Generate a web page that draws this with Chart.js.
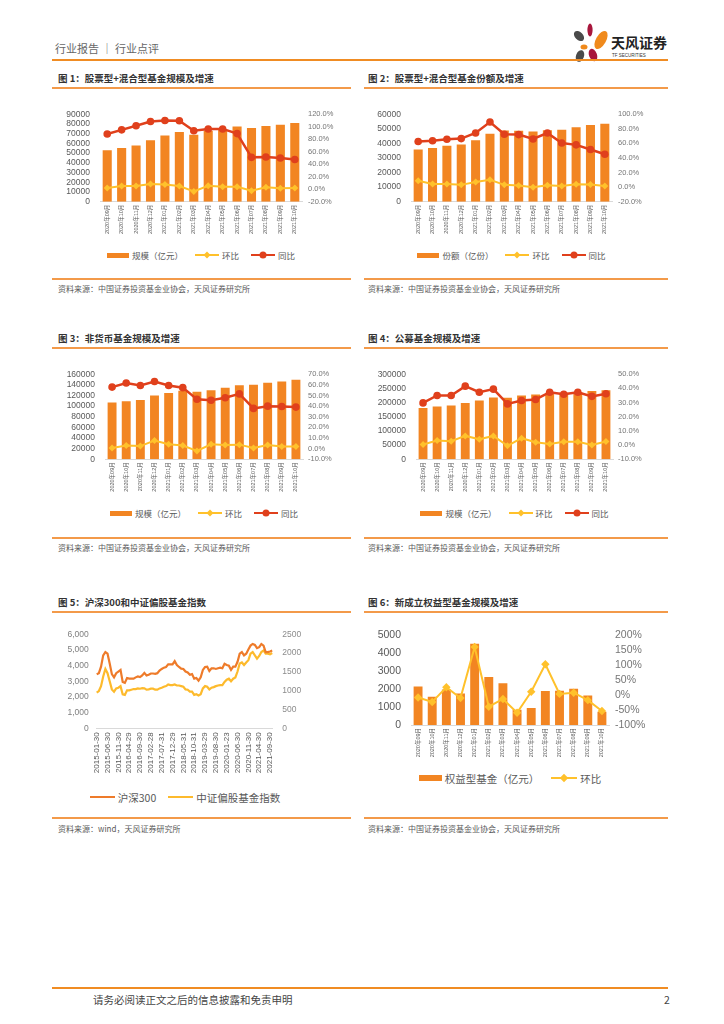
<!DOCTYPE html>
<html>
<head>
<meta charset="utf-8">
<script src="https://cdn.jsdelivr.net/npm/chart.js@4.4.1/dist/chart.umd.min.js"></script>
<style>
  body { margin:0; background:#fff; font-family:'Noto Sans CJK SC', sans-serif; }
  #page { position:relative; width:724px; height:1024px; overflow:hidden; }
  .abs { position:absolute; }
  .hline { position:absolute; background:#F39A4A; height:1.5px; }
  .title { position:absolute; font-size:9.5px; font-weight:bold; color:#333; line-height:12px; white-space:nowrap; }
  .src { position:absolute; font-size:8px; color:#595959; line-height:10px; white-space:nowrap; }
  canvas { position:absolute; }
  .lg { position:absolute; display:flex; align-items:center; justify-content:center; color:#595959; white-space:nowrap; }
  .lg .it { display:flex; align-items:center; margin:0 6px; }
  .sw-bar { background:#F28522; margin-right:3px; }
  .sw-line { position:relative; margin-right:3px; }
  .sw-line i { position:absolute; left:50%; top:50%; display:block; }
</style>
</head>
<body>
<div id="page">
  <!-- header -->
  <div class="abs" style="left:55px;top:41px;font-size:11px;color:#666;line-height:14px;">行业报告 ｜ 行业点评</div>
  <svg class="abs" style="left:568px;top:20px;" width="104" height="44">
    <ellipse cx="11" cy="16" rx="4" ry="6" fill="#4a4a4a" transform="rotate(-45 11 16)"/>
    <ellipse cx="22" cy="10" rx="2.6" ry="6.5" fill="#a8163c"/>
    <ellipse cx="33" cy="20" rx="5" ry="10" fill="#f08a1c" transform="rotate(30 33 20)"/>
    <ellipse cx="16" cy="27" rx="3.5" ry="2.5" fill="#f08a1c"/>
    <ellipse cx="12" cy="36" rx="4" ry="6" fill="#4a4a4a" transform="rotate(20 12 36)"/>
    <ellipse cx="25" cy="35" rx="4" ry="6.5" fill="#a8163c" transform="rotate(-20 25 35)"/>
    <text x="43" y="28" font-size="14" font-weight="bold" fill="#222" font-family="Noto Sans CJK SC">天风证券</text>
    <text x="44" y="37" font-size="4.5" fill="#333" font-family="Liberation Sans">TF SECURITIES</text>
  </svg>
  <div class="abs" style="left:52px;top:59px;width:616px;height:2px;background:#F08C23;"></div>

  <!-- row 1 -->
  <div class="title" style="left:58px;top:72px;">图 1：股票型+混合型基金规模及增速</div>
  <div class="title" style="left:368px;top:72px;">图 2：股票型+混合型基金份额及增速</div>
  <div class="hline" style="left:52px;top:87px;width:299px;"></div>
  <div class="hline" style="left:364px;top:87px;width:304px;"></div>
  <canvas id="c1" width="300" height="145" style="left:55px;top:100px;"></canvas>
  <canvas id="c2" width="300" height="145" style="left:365px;top:100px;"></canvas>
  <div id="lg1" class="lg" style="left:100px;top:249px;width:202px;height:12px;"></div>
  <div id="lg2" class="lg" style="left:411px;top:249px;width:201px;height:12px;"></div>
  <div class="hline" style="left:52px;top:278px;width:299px;"></div>
  <div class="hline" style="left:364px;top:278px;width:304px;"></div>
  <div class="src" style="left:58px;top:284px;">资料来源：中国证券投资基金业协会，天风证券研究所</div>
  <div class="src" style="left:368px;top:284px;">资料来源：中国证券投资基金业协会，天风证券研究所</div>

  <!-- row 2 -->
  <div class="title" style="left:58px;top:332px;">图 3：非货币基金规模及增速</div>
  <div class="title" style="left:368px;top:332px;">图 4：公募基金规模及增速</div>
  <div class="hline" style="left:52px;top:347px;width:299px;"></div>
  <div class="hline" style="left:364px;top:347px;width:304px;"></div>
  <canvas id="c3" width="300" height="145" style="left:55px;top:360px;"></canvas>
  <canvas id="c4" width="300" height="145" style="left:365px;top:360px;"></canvas>
  <div id="lg3" class="lg" style="left:105px;top:507px;width:198px;height:12px;"></div>
  <div id="lg4" class="lg" style="left:416px;top:507px;width:197px;height:12px;"></div>
  <div class="hline" style="left:52px;top:537px;width:299px;"></div>
  <div class="hline" style="left:364px;top:537px;width:304px;"></div>
  <div class="src" style="left:58px;top:543px;">资料来源：中国证券投资基金业协会，天风证券研究所</div>
  <div class="src" style="left:368px;top:543px;">资料来源：中国证券投资基金业协会，天风证券研究所</div>

  <!-- row 3 -->
  <div class="title" style="left:58px;top:596px;">图 5：沪深300和中证偏股基金指数</div>
  <div class="title" style="left:368px;top:596px;">图 6：新成立权益型基金规模及增速</div>
  <div class="hline" style="left:52px;top:611px;width:299px;"></div>
  <div class="hline" style="left:364px;top:611px;width:304px;"></div>
  <canvas id="c5" width="300" height="165" style="left:55px;top:620px;"></canvas>
  <canvas id="c6" width="300" height="150" style="left:365px;top:620px;"></canvas>
  <div id="lg5" class="lg" style="left:55px;top:790px;width:260px;height:14px;"></div>
  <div id="lg6" class="lg" style="left:411px;top:771px;width:198px;height:14px;"></div>
  <div class="hline" style="left:52px;top:817px;width:299px;"></div>
  <div class="hline" style="left:364px;top:817px;width:304px;"></div>
  <div class="src" style="left:58px;top:824px;">资料来源：wind，天风证券研究所</div>
  <div class="src" style="left:368px;top:824px;">资料来源：中国证券投资基金业协会，天风证券研究所</div>

  <!-- footer -->
  <div class="abs" style="left:52px;top:987px;width:616px;height:2px;background:#F08C23;"></div>
  <div class="abs" style="left:93px;top:993px;font-size:10.5px;color:#444;line-height:14px;">请务必阅读正文之后的信息披露和免责申明</div>
  <div class="abs" style="left:664px;top:993px;font-size:10.5px;color:#444;line-height:14px;">2</div>
</div>

<script>
// ---- data ----
const months = ['2020年09月','2020年10月','2020年11月','2020年12月','2021年01月','2021年02月','2021年03月',
                '2021年04月','2021年05月','2021年06月','2021年07月','2021年08月','2021年09月','2021年10月'];

// 图1 股票型+混合型 规模(亿元), 环比(%), 同比(%)
const fig1Scale = [53000,55300,57900,63300,68100,71700,68800,73000,74600,77500,75900,77800,79100,81000];
const fig1Mom   = [2,5,5,8.5,7.5,5,-3.5,5.5,4,4,-2.5,3,1.5,2];
const fig1Yoy   = [88.5,95,101.5,108.5,110,109.5,93.5,96.5,96.5,89,51,51.5,50,47.5];

// 图2 股票型+混合型 份额(亿份)
const fig2Share = [35800,36900,38400,39200,42200,46700,48900,48600,48200,49100,49300,51000,52700,53400];
const fig2Mom   = [8.7,4.4,4.4,3.1,7,10,3.1,2.3,-0.3,2.7,1.4,4,3.6,1.4];
const fig2Yoy   = [62.7,63.6,65.7,66.6,74.3,89.3,72.6,72.1,66.1,74.3,60.6,58,51.6,45.1];

// 图3 非货币基金
const fig3Scale = [106700,109000,111400,120200,124900,129000,127200,130100,134800,139500,140100,144200,146500,149500];
const fig3Mom   = [0.6,2.9,2.4,7.6,4.1,2.9,-2.1,4.1,3.5,3.8,0.6,3.5,2.1,2.1];
const fig3Yoy   = [57.9,61.8,59.4,63.2,59.4,57.4,46.5,45.6,47.9,51.5,37.9,40,39.7,39.1];

// 图4 公募基金
const fig4Scale = [181000,186000,190000,199000,207000,218000,217000,225000,229000,233000,235000,237000,241000,244000];
const fig4Mom   = [0.5,3.2,2.7,6.5,4.1,6.5,-0.5,4.9,2.1,0.8,2.3,2.3,0.1,2.5];
const fig4Yoy   = [29.8,35,35,41.6,37.3,39.5,29.1,31.5,32.2,37.3,35.9,37.3,34.4,36.2];

// 图6 新成立权益型基金
const fig6Scale = [2140,1580,1980,1750,4530,2670,2320,850,950,1890,1910,2020,1650,740];
const fig6Mom   = [-8,-23,26,-10,161,-39,-13,-59,11,103,4,8,-17,-53];

// 图5 月度, 2015-01 ~ 2021-10
const fig5Ticks = ['2015-01-30','2015-06-30','2015-11-30','2016-04-29','2016-09-30','2017-02-28','2017-07-31','2017-12-29',
                   '2018-05-31','2018-10-31','2019-03-29','2019-08-30','2020-01-23','2020-06-30','2020-11-30','2021-04-30','2021-09-30'];
const hs300 = [3455,3517,3931,4655,4862,4759,4138,3455,3250,3517,3620,3724,
               2960,2897,3207,3166,3166,3166,3250,3310,3270,3373,3538,3373,
               3414,3497,3497,3476,3517,3683,3786,3869,3911,4076,4076,4076,
               4283,4035,3911,3807,3786,3620,3559,3414,3455,3166,3207,3042,
               3250,3724,3911,3931,3662,3828,3828,3786,3828,3869,3828,4117,
               4035,3993,3724,3931,3931,4242,4759,4862,4655,4759,5028,5276,
               5380,5318,5111,5173,5380,5276,4862,4862,4904,4966];
const fundIndex = [948,991,1121,1379,1578,1466,1250,1034,974,1060,1078,1121,
                   905,888,1009,1009,1026,1043,1043,1060,1052,1069,1060,1026,
                   1034,1052,1052,1026,1026,1060,1078,1103,1121,1164,1147,1147,
                   1164,1138,1138,1121,1103,1034,1026,974,974,888,905,871,
                   905,1060,1121,1103,1034,1078,1095,1121,1138,1147,1147,1233,
                   1293,1319,1250,1319,1353,1509,1724,1750,1681,1750,1810,1983,
                   2026,1940,1853,1922,2026,2069,1983,1983,1966,2000];

const ORANGE = '#F28522';
const YELLOW = '#FFC12B';
const RED = '#E0401C';
const HS_COLOR = '#EE7B2A';
const FUND_COLOR = '#FDBA2C';

Chart.defaults.font.family = "'Liberation Sans','Noto Sans CJK SC',sans-serif";

function comboChart(id, bars, mom, yoy, ax) {
    var datasets = [{
        type: 'bar', data: bars, backgroundColor: ORANGE,
        categoryPercentage: 1, barPercentage: 0.63, yAxisID: 'y', order: 3
    }, {
        type: 'line', data: mom, borderColor: YELLOW, backgroundColor: YELLOW,
        borderWidth: 2, pointStyle: 'rectRot', pointRadius: ax.dot || 3.5, pointBorderWidth: 0,
        yAxisID: 'y1', order: 2
    }];
    if (yoy) {
        datasets.push({
            type: 'line', data: yoy, borderColor: RED, backgroundColor: RED,
            borderWidth: 2.5, pointStyle: 'circle', pointRadius: 3.8, pointBorderWidth: 0,
            yAxisID: 'y1', order: 1
        });
    }
    return new Chart(document.getElementById(id), {
        type: 'bar',
        data: { labels: months, datasets: datasets },
        options: {
            responsive: false, animation: false,
            layout: { padding: { top: ax.top, left: 0, right: 0, bottom: 0 } },
            plugins: { legend: { display: false }, tooltip: { enabled: false } },
            scales: {
                x: {
                    grid: { display: false, drawTicks: false },
                    border: { color: '#d9d9d9' },
                    ticks: { font: { size: 5.5 }, color: '#595959', maxRotation: 90, minRotation: 90, autoSkip: false, padding: 3 },
                    afterFit: function (s) { s.height = ax.xh; }
                },
                y: {
                    position: 'left', min: 0, max: ax.max,
                    grid: { display: false, drawTicks: false }, border: { display: false },
                    ticks: { stepSize: ax.step, autoSkip: false, font: { size: ax.fs || 8.5, lineHeight: 1 }, color: '#595959', padding: ax.lp,
                             callback: function (v) { return String(v); } },
                    afterFit: function (s) { s.width = ax.lw; }
                },
                y1: {
                    position: 'right', min: ax.rmin, max: ax.rmax,
                    grid: { display: false, drawTicks: false }, border: { display: false },
                    ticks: { stepSize: ax.rstep, autoSkip: false, font: { size: ax.rfs || 7.5, lineHeight: 1 }, color: '#767676', padding: ax.rp,
                             callback: ax.fmt },
                    afterFit: function (s) { s.width = ax.rw; }
                }
            }
        }
    });
}

function pct1(v) { return v.toFixed(1) + '%'; }

comboChart('c1', fig1Scale, fig1Mom, fig1Yoy,
    { top: 8.3, xh: 43.3, max: 90000, step: 10000, lw: 45, lp: 10, rmin: -20, rmax: 120, rstep: 20, rw: 53, rp: 6, fmt: pct1 });
comboChart('c2', fig2Share, fig2Mom, fig2Yoy,
    { top: 8.3, xh: 43.3, max: 60000, step: 10000, lw: 46, lp: 10, rmin: -20, rmax: 100, rstep: 20, rw: 53, rp: 6, fmt: pct1 });
comboChart('c3', fig3Scale, fig3Mom, fig3Yoy,
    { top: 8.3, xh: 45.7, max: 160000, step: 20000, lw: 50, lp: 10, rmin: -10, rmax: 70, rstep: 10, rw: 52, rp: 5, fmt: pct1 });
comboChart('c4', fig4Scale, fig4Mom, fig4Yoy,
    { top: 8.3, xh: 45.7, max: 300000, step: 50000, lw: 51, lp: 10, rmin: -10, rmax: 50, rstep: 10, rw: 52, rp: 5, fmt: pct1 });
comboChart('c6', fig6Scale, fig6Mom, null,
    { top: 10, xh: 45, max: 5000, step: 1000, lw: 46, lp: 10, fs: 10.5, rmin: -100, rmax: 200, rstep: 50, rw: 56, rp: 6, rfs: 10.5,
      dot: 4.2, fmt: function (v) { return v + '%'; } });

// 图5 line chart
var fig5Labels = hs300.map(function (v, i) { return i % 5 === 0 && fig5Ticks[i / 5] ? fig5Ticks[i / 5] : ''; });
new Chart(document.getElementById('c5'), {
    type: 'line',
    data: {
        labels: fig5Labels,
        datasets: [
            { data: hs300, borderColor: HS_COLOR, borderWidth: 2.2, pointRadius: 0, yAxisID: 'y' },
            { data: fundIndex, borderColor: FUND_COLOR, borderWidth: 2.2, pointRadius: 0, yAxisID: 'y1' }
        ]
    },
    options: {
        responsive: false, animation: false,
        layout: { padding: { top: 11.7, left: 0, right: 0, bottom: 0 } },
        plugins: { legend: { display: false }, tooltip: { enabled: false } },
        scales: {
            x: {
                offset: false,
                grid: { display: false, drawTicks: false },
                border: { color: '#d9d9d9' },
                ticks: { font: { size: 8 }, color: '#595959', maxRotation: 90, minRotation: 90, autoSkip: false, padding: 4 },
                afterFit: function (s) { s.height = 56.7; }
            },
            y: {
                position: 'left', min: 0, max: 6000,
                grid: { display: false, drawTicks: false }, border: { display: false },
                ticks: { stepSize: 1000, autoSkip: false, font: { size: 8.5, lineHeight: 1 }, color: '#7f7f7f', padding: 8,
                         callback: function (v) { return v.toLocaleString('en-US'); } },
                afterFit: function (s) { s.width = 41.7; }
            },
            y1: {
                position: 'right', min: 0, max: 2500,
                grid: { display: false, drawTicks: false }, border: { display: false },
                ticks: { stepSize: 500, autoSkip: false, font: { size: 8.5, lineHeight: 1 }, color: '#8c8c8c', padding: 10,
                         callback: function (v) { return String(v); } },
                afterFit: function (s) { s.width = 82.8; }
            }
        }
    }
});

// legends (html)
function legend(id, items, size) {
    var box = document.getElementById(id);
    box.style.fontSize = size + 'px';
    items.forEach(function (it) {
        var d = document.createElement('div');
        d.className = 'it';
        var sw = document.createElement('span');
        if (it.kind === 'bar') {
            sw.className = 'sw-bar';
            sw.style.width = it.w + 'px';
            sw.style.height = it.h + 'px';
        } else {
            sw.className = 'sw-line';
            sw.style.width = it.w + 'px';
            sw.style.height = it.lw + 'px';
            sw.style.background = it.color;
            if (it.kind !== 'line') {
                var m = document.createElement('i');
                m.style.width = it.m + 'px';
                m.style.height = it.m + 'px';
                m.style.background = it.color;
                if (it.kind === 'circle') {
                    m.style.borderRadius = '50%';
                    m.style.transform = 'translate(-50%,-50%)';
                } else {
                    m.style.transform = 'translate(-50%,-50%) rotate(45deg)';
                }
                sw.appendChild(m);
            }
        }
        d.appendChild(sw);
        var t = document.createElement('span');
        t.textContent = it.text;
        d.appendChild(t);
        box.appendChild(d);
    });
}

function stdLegend(id, barText) {
    legend(id, [
        { kind: 'bar', w: 22, h: 5, text: barText },
        { kind: 'diamond', w: 24, lw: 2, m: 5, color: YELLOW, text: '环比' },
        { kind: 'circle', w: 24, lw: 2.5, m: 7, color: RED, text: '同比' }
    ], 8.5);
}
stdLegend('lg1', '规模（亿元）');
stdLegend('lg2', '份额（亿份）');
stdLegend('lg3', '规模（亿元）');
stdLegend('lg4', '规模（亿元）');
legend('lg5', [
    { kind: 'line', w: 25, lw: 2, color: HS_COLOR, text: '沪深300' },
    { kind: 'line', w: 25, lw: 2, color: FUND_COLOR, text: '中证偏股基金指数' }
], 10.5);
legend('lg6', [
    { kind: 'bar', w: 23, h: 6, text: '权益型基金（亿元）' },
    { kind: 'diamond', w: 26, lw: 2, m: 6, color: YELLOW, text: '环比' }
], 10.5);
</script>
</body>
</html>
